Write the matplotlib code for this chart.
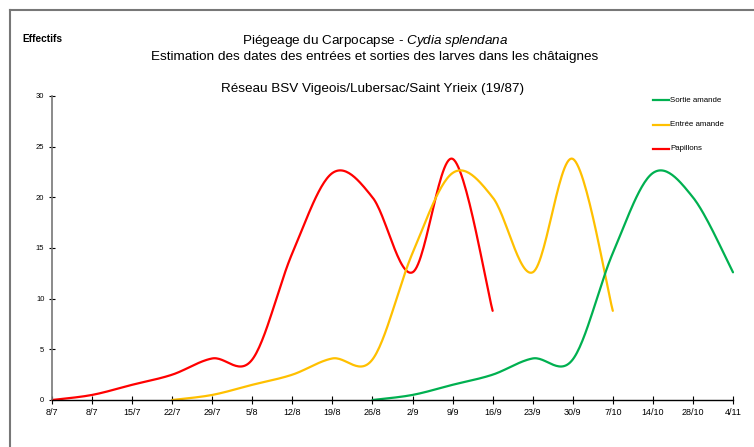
import numpy as np
import matplotlib.pyplot as plt
from matplotlib.lines import Line2D

plt.rcParams['font.family'] = ['Liberation Sans', 'DejaVu Sans']
plt.rcParams['mathtext.fontset'] = 'custom'
plt.rcParams['mathtext.rm'] = 'Liberation Sans'
plt.rcParams['mathtext.it'] = 'Liberation Sans:italic'

dates = ["8/7", "8/7", "15/7", "22/7", "29/7", "5/8", "12/8", "19/8", "26/8",
         "2/9", "9/9", "16/9", "23/9", "30/9", "7/10", "14/10", "28/10", "4/11"]

# Papillons starts at 8/7 (index 0)
papillons = [0, 0.5, 1.5, 2.5, 4.1, 4.0, 14.5, 22.4, 20.0, 12.6, 23.8, 8.8]
# Entrée amande starts at 22/7 (index 3)
entree = [0, 0.5, 1.5, 2.5, 4.1, 4.0, 14.5, 22.4, 20.0, 12.6, 23.8, 8.8]
# Sortie amande starts at 26/8 (index 8)
sortie = [0, 0.5, 1.5, 2.5, 4.1, 4.0, 14.5, 22.4, 20.0, 12.6]

start_papillons = 0
start_entree = 3
start_sortie = 8


def smooth(xs, ys, n=30):
    # bezier smoothing like a spreadsheet "smoothed line"
    p = np.column_stack([xs, ys]).astype(float)
    pts = []
    for i in range(len(p) - 1):
        p0 = p[i - 1] if i > 0 else p[i]
        p1 = p[i]
        p2 = p[i + 1]
        p3 = p[i + 2] if i + 2 < len(p) else p[i + 1]
        c1 = p1 + (p2 - p0) / 6
        c2 = p2 - (p3 - p1) / 6
        t = np.linspace(0, 1, n)[:, None]
        seg = ((1 - t) ** 3) * p1 + 3 * ((1 - t) ** 2) * t * c1 + 3 * (1 - t) * t ** 2 * c2 + t ** 3 * p2
        pts.append(seg)
    pts = np.vstack(pts)
    return pts[:, 0], pts[:, 1]


fig = plt.figure(figsize=(7.54, 4.47), dpi=100)
ax = fig.add_axes([52 / 754, 47 / 447, 681 / 754, 304 / 447])

for vals, start, color in [(papillons, start_papillons, "#ff0000"),
                           (entree, start_entree, "#ffc000"),
                           (sortie, start_sortie, "#00b050")]:
    x = np.arange(len(vals)) + start
    sx, sy = smooth(x, vals)
    ax.plot(sx, sy, color=color, lw=1.6, solid_capstyle='round', clip_on=False)

ax.set_xlim(0, len(dates) - 1)
ax.set_ylim(0, 30)
ax.set_xticks(range(len(dates)))
ax.set_xticklabels(dates, fontsize=6.5)
ax.set_yticks(range(0, 31, 5))
ax.tick_params(axis='y', labelsize=5.5, direction='inout', length=5, width=0.8, pad=3)
ax.tick_params(axis='x', direction='inout', length=6, width=0.8, pad=3)
for s in ['top', 'right']:
    ax.spines[s].set_visible(False)
ax.spines['left'].set_color('#777777')
ax.spines['left'].set_linewidth(1.2)
ax.spines['bottom'].set_color('black')
ax.spines['bottom'].set_linewidth(1.0)

# frame around the chart area
fig.add_artist(Line2D([10 / 754, 1], [1 - 10 / 447, 1 - 10 / 447], color='#777777', lw=1.5))
fig.add_artist(Line2D([10 / 754, 10 / 754], [0, 1 - 10 / 447], color='#777777', lw=1.5))

cx = 375 / 754
fig.text(cx, 1 - 41 / 447, "Piégeage du Carpocapse - $\\it{Cydia\\ splendana}$",
         ha='center', va='center', fontsize=9.7)
fig.text(cx, 1 - 57 / 447, "Estimation des dates des entrées et sorties des larves dans les châtaignes",
         ha='center', va='center', fontsize=9.7)
fig.text(373 / 754, 1 - 89 / 447, "Réseau BSV Vigeois/Lubersac/Saint Yrieix (19/87)",
         ha='center', va='center', fontsize=9.7)
fig.text(22 / 754, 1 - 39 / 447, "Effectifs", ha='left', va='center',
         fontsize=7.3, fontweight='bold')

legend_items = [("Sortie amande", "#00b050", 100),
                ("Entrée amande", "#ffc000", 125),
                ("Papillons", "#ff0000", 149)]
for label, color, y in legend_items:
    fy = 1 - y / 447
    fig.add_artist(Line2D([653 / 754, 669 / 754], [fy, fy], color=color, lw=1.6))
    fig.text(670 / 754, fy, label, ha='left', va='center', fontsize=5.7)

fig.savefig("out.png", dpi=100)
